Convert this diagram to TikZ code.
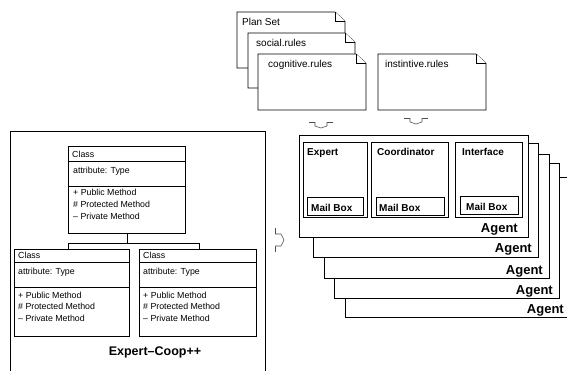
\documentclass[tikz,border=0pt]{standalone}
\usepackage{fontspec}
\setmainfont{Liberation Sans}
\begin{document}
\begin{tikzpicture}[x=1pt,y=-1pt,
  frame/.style={draw=black,line width=0.7pt,fill=white},
  docshape/.style={draw=black,line width=0.6pt,fill=white},
  clsbox/.style={draw=black,line width=0.6pt,fill=white,anchor=north west,inner sep=0,minimum width=#1,minimum height=87},
  small/.style={font=\fontsize{8.8}{9.5}\selectfont,anchor=base west,inner sep=0},
  doclabel/.style={font=\fontsize{10}{11}\selectfont,anchor=base west,inner sep=0},
  boldlabel/.style={font=\bfseries\fontsize{10}{11}\selectfont,anchor=base west,inner sep=0},
  agentlabel/.style={font=\bfseries\fontsize{13}{14}\selectfont,anchor=base east,inner sep=0},
  blockarrow/.style={draw=black!70,line width=0.6pt,fill=white}
]
\useasboundingbox (0,0) rectangle (567,370);

% ---------- documents ----------
\newcommand{\docpath}[5]{%
  \draw[docshape] (#1,#2) -- (#3-10,#2) -- (#3,#2+9) -- (#3,#4) -- (#1,#4) -- cycle;
  \draw[docshape] (#3-10,#2) -- (#3-10,#2+9) -- (#3,#2+9);
  \coordinate (#5) at (#1,#2);}
\docpath{237}{12}{345}{68}{dplan}
\node[doclabel] (tplan) at (242,25) {Plan Set};
\docpath{248}{33}{355}{88}{dsocial}
\node[doclabel] (tsocial) at (256,46) {social.rules};
\docpath{258}{54}{366}{110}{dcog}
\node[doclabel] (tcog) at (268,67) {cognitive.rules};
\docpath{378}{54}{486}{110}{dinst}
\node[doclabel] (tinst) at (385,67) {instintive.rules};

% ---------- small block arrows ----------
\draw[blockarrow] (309,122) -- (333,122);
\draw[blockarrow] (315,122) -- (315,126) -- (321,128) -- (327,126) -- (327,122);
\draw[blockarrow] (404,118) -- (428,118);
\draw[blockarrow] (410,118) -- (410,122) -- (416,124) -- (422,122) -- (422,118);
\draw[blockarrow] (275,228) -- (275,252);
\draw[blockarrow] (275,234) -- (281,234) -- (284,240) -- (281,246) -- (275,246);

% ---------- agent stack ----------
\draw[frame] (345,177) rectangle (575,317);
\node[agentlabel] (ag5) at (564,313) {Agent};
\draw[frame] (334,163) rectangle (559,298);
\node[agentlabel] (ag4) at (553,294) {Agent};
\draw[frame] (324,154) rectangle (549,278);
\node[agentlabel] (ag3) at (543,274) {Agent};
\draw[frame] (313,143) rectangle (538,257);
\node[agentlabel] (ag2) at (532,252) {Agent};
\draw[frame] (299,135) rectangle (528,237);
\node[agentlabel] (ag1) at (518,232) {Agent};

% inner components
\draw[frame] (303,142) rectangle (367,217);
\draw[frame] (307,197) rectangle (363,215);
\node[boldlabel] (expert) at (307,155) {Expert};
\node[boldlabel] (mb1) at (311,211) {Mail Box};

\draw[frame] (371,142) rectangle (448,217);
\draw[frame] (376,197) rectangle (444,215);
\node[boldlabel] (coord) at (377,155) {Coordinator};
\node[boldlabel] (mb2) at (379,211) {Mail Box};

\draw[frame] (455,142) rectangle (522,217);
\draw[frame] (460,196) rectangle (518,214);
\node[boldlabel] (iface) at (462,155) {Interface};
\node[boldlabel] (mb3) at (466,210) {Mail Box};

% ---------- Expert-Coop++ panel ----------
\draw[line width=0.7pt] (10,375) -- (10,131) -- (265,131) -- (265,375);

\node[clsbox=117] (c1) at (68,146) {};
\draw[line width=0.6pt] (68,161) -- (185,161);
\draw[line width=0.6pt] (68,186) -- (185,186);
\node[small] at (72,157) {Class};
\node[small] at (73,173) {attribute: Type};
\node[small] at (73,195) {+ Public Method};
\node[small] at (73,207) {\# Protected Method};
\node[small] at (73,219) {– Private Method};

\node[clsbox=115] (c2) at (14,249) {};
\draw[line width=0.6pt] (14,262) -- (129,262);
\draw[line width=0.6pt] (14,287) -- (129,287);
\node[small] at (18,258) {Class};
\node[small] at (18,274) {attribute: Type};
\node[small] at (18,298) {+ Public Method};
\node[small] at (18,309) {\# Protected Method};
\node[small] at (18,321) {– Private Method};

\node[clsbox=117] (c3) at (139,249) {};
\draw[line width=0.6pt] (139,262) -- (256,262);
\draw[line width=0.6pt] (139,287) -- (256,287);
\node[small] at (143,258) {Class};
\node[small] at (143,274) {attribute: Type};
\node[small] at (143,298) {+ Public Method};
\node[small] at (143,309) {\# Protected Method};
\node[small] at (143,321) {– Private Method};

\coordinate (jn) at ([yshift=-10pt]c1.south);
\draw[line width=0.6pt] (c1.south) -- (jn);
\draw[line width=0.6pt] ([xshift=-3.5pt]c2.north) |- (jn) -| ([xshift=1.5pt]c3.north);

\node[font=\bfseries\fontsize{12.5}{13}\selectfont,anchor=base,inner sep=0] (title) at (155,355) {Expert–Coop++};
\end{tikzpicture}
\end{document}
